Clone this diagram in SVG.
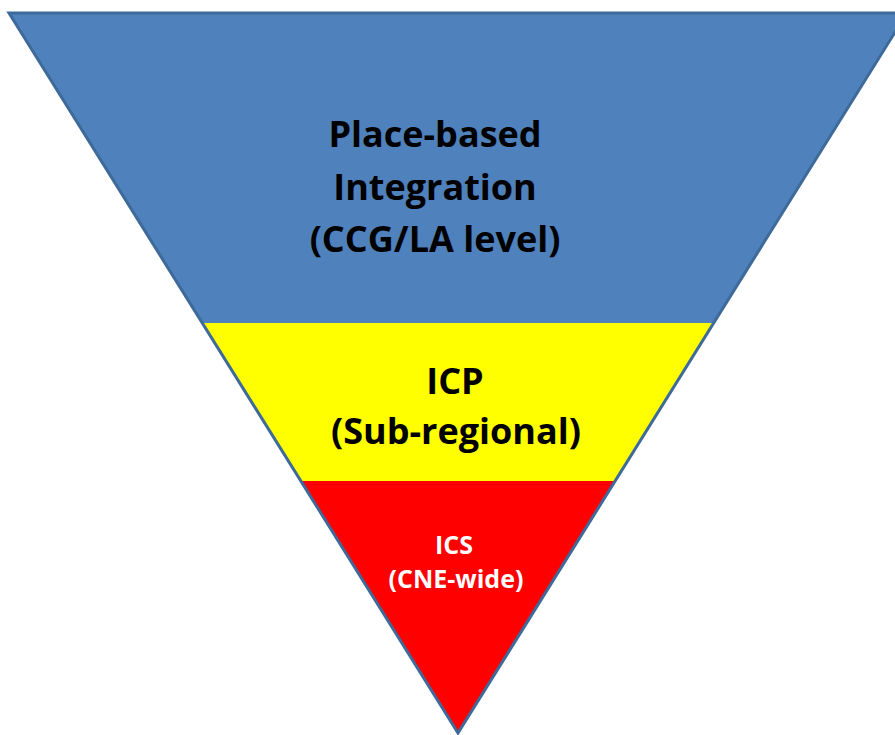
<svg xmlns="http://www.w3.org/2000/svg" width="895" height="735" viewBox="0 0 895 735">
  <style>
    .lbl { font-family: "Open Sans", "Liberation Sans", sans-serif; font-weight: bold; text-anchor: middle; }
    .dark { fill: #000000; font-size: 36px; }
    .light { fill: #ffffff; font-size: 25px; }
  </style>
  <rect width="895" height="735" fill="#ffffff"/>
  <g id="place-based">
    <polygon points="9,13 907,13 713.7,323 202.3,323" fill="#4F81BD"/>
    <text class="lbl dark" x="435" y="147">Place-based</text>
    <text class="lbl dark" x="435" y="200">Integration</text>
    <text class="lbl dark" x="435" y="252">(CCG/LA level)</text>
  </g>
  <g id="icp">
    <polygon points="202.3,323 713.7,323 615.1,481 300.9,481" fill="#FFFF00"/>
    <text class="lbl dark" x="455" y="394">ICP</text>
    <text class="lbl dark" x="456" y="444">(Sub-regional)</text>
  </g>
  <g id="ics">
    <polygon points="300.9,481 615.1,481 458,733" fill="#FF0000"/>
    <text class="lbl light" x="454" y="554">ICS</text>
    <text class="lbl light" x="456" y="588">(CNE-wide)</text>
  </g>
  <g id="connectors"></g>
  <polygon points="9,13 907,13 458,733" fill="none" stroke="#3E6A9A" stroke-width="3" stroke-linejoin="miter"/>
</svg>
